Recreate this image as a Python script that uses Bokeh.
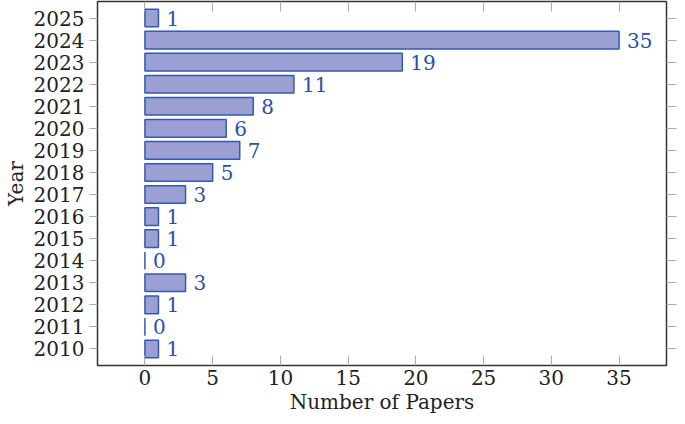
from bokeh.plotting import figure
from bokeh.models import Range1d, FixedTicker, LinearAxis, ColumnDataSource, CustomJSTickFormatter
from bokeh.core.properties import value
from bokeh.embed import file_html
from bokeh.resources import INLINE

years = [2010, 2011, 2012, 2013, 2014, 2015, 2016, 2017, 2018, 2019, 2020, 2021, 2022, 2023, 2024, 2025]
papers = [1, 0, 1, 3, 0, 1, 1, 3, 5, 7, 6, 8, 11, 19, 35, 1]
x_ticks = [0, 5, 10, 15, 20, 25, 30, 35]

FONT = "DejaVu Serif"
FS = "20px"
src = ColumnDataSource(dict(y=years, x=papers, lab=[str(v) for v in papers]))

p = figure(width=677, height=416, output_backend="svg", toolbar_location=None,
           x_range=Range1d(-3.5, 38.5), y_range=Range1d(2009.25, 2025.75),
           min_border_top=1, min_border_left=80, min_border_right=11, min_border_bottom=40)
p.xgrid.visible = False
p.ygrid.visible = False
p.outline_line_color = "#333333"
p.outline_line_width = 1.5

p.hbar(y="y", right="x", left=0, height=0.8, source=src,
       fill_color="#9b9fd1", line_color="#3558b0", line_width=1.5)
p.text(x="x", y="y", text="lab", source=src, x_offset=8,
       text_baseline="middle", text_align="left", text_color="#2a4fa8",
       text_font=value(FONT), text_font_size=FS)

def style(ax):
    ax.axis_line_color = None
    ax.major_tick_line_color = "#aaaaaa"
    ax.minor_tick_line_color = None
    ax.major_label_text_font = FONT
    ax.major_label_text_font_size = FS
    ax.major_label_text_color = "#222222"
    ax.axis_label_text_font = FONT
    ax.axis_label_text_font_size = FS
    ax.axis_label_text_font_style = "normal"
    ax.axis_label_text_color = "#222222"

xa = p.xaxis[0]
style(xa)
xa.ticker = FixedTicker(ticks=x_ticks)
xa.major_tick_in = 10
xa.major_tick_out = 0
xa.major_label_standoff = 4
xa.axis_label = "Number of Papers"
xa.axis_label_standoff = 2

ya = p.yaxis[0]
style(ya)
ya.ticker = FixedTicker(ticks=years)
ya.major_tick_in = 0
ya.major_tick_out = 8
ya.major_label_standoff = 5
ya.axis_label = "Year"
ya.axis_label_standoff = 3

blank = CustomJSTickFormatter(code="return ''")

top = LinearAxis(ticker=FixedTicker(ticks=x_ticks), formatter=blank)
style(top)
top.major_tick_in = 10
top.major_tick_out = 0
top.major_label_standoff = 0
p.add_layout(top, "above")

right = LinearAxis(ticker=FixedTicker(ticks=years), formatter=blank)
style(right)
right.major_tick_in = 0
right.major_tick_out = 10
right.major_label_standoff = 0
p.add_layout(right, "right")

open("out.html", "w").write(file_html(p, INLINE))
